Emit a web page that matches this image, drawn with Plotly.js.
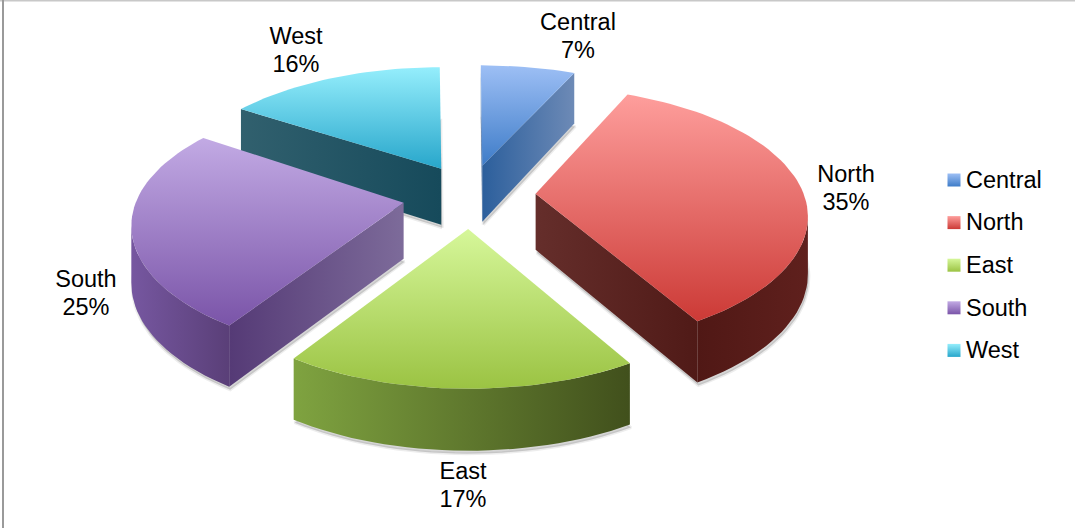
<!DOCTYPE html>
<html>
<head>
<meta charset="utf-8">
<script src="https://cdn.plot.ly/plotly-3.0.1.min.js"></script>
<style>html,body{margin:0;padding:0;background:#fff}#chart{width:1075px;height:528px}</style>
</head>
<body>
<div id="chart"></div>
<script>
// Regional share of the total
const regions = ['Central', 'North', 'East', 'South', 'West'];
const shares = [7, 35, 17, 25, 16];

// Per-slice colours: top face, then the two side walls (each left to right)
const topColors = [['#9dbff5', '#3e7cc8'], ['#fe9e9c', '#cc3a36'], ['#d6f79a', '#9bc343'], ['#c2aae4', '#7a54a8'], ['#95eefc', '#27a6cb']];
const cutColors = [['#2c5f9c', '#6d8ab6'], ['#652e2b', '#501a17'], ['#6e8e38', '#45561f'], ['#553a76', '#7d6b9a'], ['#31606e', '#164a5b']];
const rimColors = [['#2c5f9c', '#6d8ab6'], ['#501815', '#5f201d'], ['#7fa340', '#41501c'], ['#7657a0', '#5a3f78'], ['#31606e', '#164a5b']];
const labelAnchors = [[578, 24, 52], [846, 176, 204], [463, 473, 501], [86, 281, 309], [296, 38, 66]];

// Projection of the tilted disc onto the canvas
const centre = [470, 195];
const firstAngle = -0.4;
const radiusX = 265, radiusY = 123, perspective = 0.23;
const explodeX = 66, explodeBack = 30, explodeFront = 34, rimLift = 7;
const depthMid = 56, depthSlope = 6;

const rad = d => d * Math.PI / 180;
const total = shares.reduce((a, b) => a + b, 0);

function project(u, v) {
  const k = 1 / (1 - perspective * v);
  return [radiusX * u * k, radiusY * v * k];
}

// Build the prism outline of each slice from its share
let cumulative = 0;
const slices = shares.map((share, i) => {
  const a0 = firstAngle + cumulative / total * 360;
  cumulative += share;
  const a1 = firstAngle + cumulative / total * 360;
  const mid = rad((a0 + a1) / 2);
  const c = -Math.cos(mid);
  // Sideways pull shrinks towards the back of the disc
  const ox = centre[0] + explodeX * Math.sin(mid) / (1 - 0.6 * perspective * c);
  const oy = centre[1] + c * (c > 0 ? explodeFront : explodeBack);
  // Slices pulled out sideways sit a little higher along their rim
  const lift = rimLift * Math.sin(mid) * Math.sin(mid);
  const arc = [];
  const steps = Math.ceil((a1 - a0) / 2);
  for (let s = 0; s <= steps; s++) {
    const t = rad(a0 + (a1 - a0) * s / steps);
    const u = Math.sin(t), v = -Math.cos(t);
    const p = project(u, v);
    arc.push({x: ox + p[0], y: oy + p[1] - lift, d: depthMid + depthSlope * v});
  }
  return {i, order: c, apex: {x: ox, y: oy, d: depthMid}, arc};
}).sort((a, b) => a.order - b.order);

const xs = pts => pts.map(p => p.x);
const ys = pts => pts.map(p => p.y);

function poly(xv, yv, fillgradient, extra) {
  return Object.assign({
    type: 'scatter', mode: 'lines', x: xv, y: yv, fill: 'toself',
    line: {width: 0}, hoverinfo: 'skip', showlegend: false
  }, fillgradient ? {fillgradient} : {}, extra || {});
}

function grad(type, colors, lo, hi) {
  return {type, start: lo, stop: hi, colorscale: [[0, colors[0]], [1, colors[1]]]};
}

function wall(a, b, colors) {
  // a and b run along the upper edge; the lower edge is pushed down by the depth
  const x = xs(a).concat(xs(b));
  const y = ys(a).concat(b.map(p => p.y + p.d));
  return poly(x, y, grad('horizontal', colors, Math.min(...x), Math.max(...x)));
}

const traces = [];
slices.forEach(s => {
  const outline = [s.apex].concat(s.arc, [s.apex]);
  // Soft drop shadow under the prism
  traces.push(poly(outline.map(p => p.x + 1), outline.map(p => p.y + p.d + 3), null,
    {fillcolor: 'rgba(0,0,0,0.16)', line: {width: 3, color: 'rgba(0,0,0,0.07)'}}));

  // Cut faces, only where they face the viewer
  const first = s.arc[0], last = s.arc[s.arc.length - 1];
  if (s.apex.x > first.x) {
    traces.push(wall([s.apex, first], [first, s.apex], cutColors[s.i]));
  }
  if (last.x > s.apex.x) {
    traces.push(wall([last, s.apex], [s.apex, last], cutColors[s.i]));
  }

  // Outer rim: the part of the arc running right to left on screen
  const rim = s.arc.filter((p, k) => (k < s.arc.length - 1 && s.arc[k + 1].x < p.x) || (k > 0 && p.x < s.arc[k - 1].x));
  if (rim.length > 1) {
    const back = rim.slice().reverse();
    const x = xs(rim).concat(xs(back));
    const y = ys(rim).concat(back.map(p => p.y + p.d));
    traces.push(poly(x, y, grad('horizontal', rimColors[s.i], Math.min(...x), Math.max(...x))));
  }

  // Top face
  const tx = xs(outline), ty = ys(outline);
  traces.push(poly(tx, ty, grad('vertical', topColors[s.i], Math.min(...ty), Math.max(...ty))));
});

// Data labels: region name over its percentage
const textFont = {family: 'Arial, "Liberation Sans", sans-serif', size: 23.5, color: '#000000'};
traces.push({
  type: 'scatter', mode: 'text', hoverinfo: 'skip', showlegend: false,
  x: labelAnchors.map(a => a[0]), y: labelAnchors.map(a => a[1]),
  text: regions, textposition: 'middle center', textfont: textFont
});
traces.push({
  type: 'scatter', mode: 'text', hoverinfo: 'skip', showlegend: false,
  x: labelAnchors.map(a => a[0]), y: labelAnchors.map(a => a[2]),
  text: shares.map(v => Math.round(v / total * 100) + '%'), textposition: 'middle center', textfont: textFont
});

// Key on the right
const keyX = 954, keyTextX = 966, keyTop = 180, keyStep = 42.6, keyTextDrop = 2;
const keyY = regions.map((_, i) => keyTop + i * keyStep);
traces.push({
  type: 'scatter', mode: 'markers', hoverinfo: 'skip', showlegend: false,
  x: regions.map(() => keyX), y: keyY,
  marker: {symbol: 'square', size: 13, line: {width: 0},
    color: topColors.map(c => c[0]),
    gradient: {type: 'vertical', color: topColors.map(c => c[1])}}
});
traces.push({
  type: 'scatter', mode: 'text', hoverinfo: 'skip', showlegend: false,
  x: regions.map(() => keyTextX), y: keyY.map(y => y + keyTextDrop),
  text: regions, textposition: 'middle right', textfont: textFont
});

const hiddenAxis = {visible: false, fixedrange: true, showgrid: false, zeroline: false};
const layout = {
  width: 1075, height: 528,
  margin: {l: 0, r: 0, t: 0, b: 0},
  paper_bgcolor: '#ffffff', plot_bgcolor: '#ffffff',
  showlegend: false,
  xaxis: Object.assign({range: [0, 1075]}, hiddenAxis),
  yaxis: Object.assign({range: [528, 0]}, hiddenAxis),
  shapes: [
    {type: 'line', xref: 'paper', yref: 'paper', x0: 0, x1: 1, y0: 0.999, y1: 0.999, line: {color: '#c8c8c8', width: 2}},
    {type: 'line', xref: 'x', yref: 'paper', x0: 3, x1: 3, y0: 0, y1: 1, line: {color: '#9a9a9a', width: 2}}
  ]
};
Plotly.newPlot('chart', traces, layout, {displayModeBar: false, staticPlot: true});
</script>
</body>
</html>
